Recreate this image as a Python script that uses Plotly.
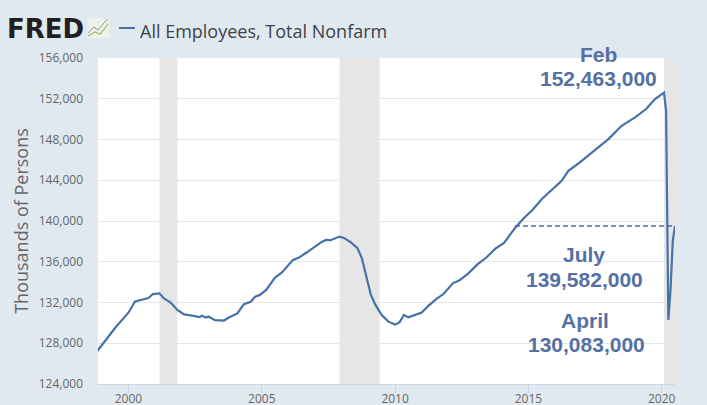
import plotly.graph_objects as go

dates = ["1998-11","1999-03","1999-07","2000-01","2000-02","2000-04","2000-07","2000-10","2000-12","2001-03",
"2001-05","2001-08","2001-11","2002-02","2002-05","2002-09","2002-10","2002-12","2003-01","2003-04",
"2003-08","2003-10","2004-02","2004-05","2004-08","2004-10","2004-12","2005-03","2005-07","2005-10",
"2006-03","2006-06","2006-09","2007-01","2007-04","2007-06","2007-08","2007-12","2008-02","2008-05",
"2008-08","2008-10","2008-12","2009-02","2009-04","2009-07","2009-10","2010-01","2010-03","2010-05",
"2010-07","2010-11","2011-01","2011-04","2011-07","2011-11","2012-03","2012-06","2012-10","2013-02",
"2013-06","2013-10","2014-02","2014-07","2014-11","2015-03","2015-07","2016-04","2016-07","2016-12",
"2017-07","2018-01","2018-07","2019-01","2019-06","2019-10","2020-02","2020-03","2020-04","2020-05","2020-06","2020-07"]
employees = [127240,128340,129500,131000,131330,132100,132270,132430,132830,132900,
132400,132000,131270,130830,130730,130570,130700,130530,130630,130270,
130230,130500,130930,131830,132070,132570,132720,133240,134440,134930,
136160,136450,136880,137530,137950,138150,138110,138470,138340,137920,
137360,136390,134600,132800,131840,130770,130120,129830,130050,130770,
130540,130860,131020,131675,132230,132880,133885,134180,134860,135740,
136390,137265,137850,139310,140290,141100,142130,143940,144920,145740,
146990,148040,149350,150170,150990,151970,152600,150800,130300,133300,138100,139500]
july_dates = ["2014-07","2020-07"]
july_level = [139509,139509]
recessions = [("2001-03-01","2001-11-01"),("2007-12-01","2009-06-01"),("2020-02-01","2020-07-01")]
y_ticks = list(range(124000,156001,4000))
x_ticks = ["2000-01-01","2005-01-01","2010-01-01","2015-01-01","2020-01-01"]
x_labels = ["2000","2005","2010","2015","2020"]
series_name = "All Employees, Total Nonfarm"
callouts = [("Feb",598,54),("152,463,000",598,78),("July",584,254),("139,582,000",584,279),
            ("April",585,320),("130,083,000",586,344)]

W,H = 707,405
L,R,T,B = 98,675,58,384
def px(x): return (x-L)/(R-L)
def py(y): return (B-y)/(B-T)

fig = go.Figure()
fig.add_trace(go.Scatter(x=dates,y=employees,mode="lines",name=series_name,
    line=dict(color="#4572a7",width=2.2)))
fig.add_trace(go.Scatter(x=july_dates,y=july_level,mode="lines",name="July level",
    line=dict(color="#4f6a9b",width=1.6,dash="5px,3px")))

for a,b in recessions:
    fig.add_shape(type="rect",xref="x",yref="paper",x0=a,x1=b,y0=0,y1=1,
        fillcolor="#e6e6e6",line_width=0,layer="between")

# legend key beside the title
fig.add_shape(type="line",xref="paper",yref="paper",x0=px(119),x1=px(135),y0=py(28),y1=py(28),
    line=dict(color="#4572a7",width=2))
# FRED logo icon
fig.add_shape(type="rect",xref="paper",yref="paper",x0=px(87),x1=px(109),y0=py(38),y1=py(18),
    fillcolor="#eef0ec",line_width=0)
fig.add_shape(type="path",xref="paper",yref="paper",
    path=f"M {px(88)} {py(33)} L {px(94)} {py(27)} L {px(98)} {py(30)} L {px(103)} {py(24)} L {px(108)} {py(19)}",
    line=dict(color="#8a9a8e",width=1))
fig.add_shape(type="path",xref="paper",yref="paper",
    path=f"M {px(88)} {py(36)} L {px(95)} {py(32)} L {px(100)} {py(34)} L {px(105)} {py(28)} L {px(108)} {py(24)}",
    line=dict(color="#9dbb6e",width=1.2))

fig.add_annotation(text="<b>FRED</b>",xref="paper",yref="paper",x=px(5),y=py(29),xanchor="left",yanchor="middle",
    showarrow=False,font=dict(family="DejaVu Sans",size=26,color="#231f20"))
for t,x,y in callouts:
    fig.add_annotation(text=f"<b>{t}</b>",xref="paper",yref="paper",x=px(x),y=py(y),
        xanchor="center",yanchor="middle",showarrow=False,
        font=dict(family="Liberation Sans",size=21,color="#5470a4"))

fig.update_layout(
    width=W,height=H,autosize=False,showlegend=False,
    margin=dict(l=L,r=W-R,t=T,b=H-B,pad=0,autoexpand=False),
    paper_bgcolor="#e1e9f0",plot_bgcolor="#ffffff",
    font=dict(family="Open Sans",color="#666666",size=12),
    title=dict(text=series_name,x=140/W,y=1-32/H,xref="container",yref="container",xanchor="left",yanchor="middle",
        automargin=False,font=dict(family="Open Sans",size=18,color="#3d4248")),
    xaxis=dict(range=["1998-11-10","2020-07-01"],tickvals=x_ticks,ticktext=x_labels,showgrid=False,automargin=False,
        ticks="outside",ticklen=8,ticklabelstandoff=-4,tickcolor="#ccd6eb",showline=True,linecolor="#ccd6eb",linewidth=1,
        tickfont=dict(size=12,color="#666666"),zeroline=False),
    yaxis=dict(range=[124000,156000],tickvals=y_ticks,tickformat=",d",showgrid=True,gridcolor="#e6e6e6",gridwidth=1,
        automargin=False,ticks="",ticklabelstandoff=14,showline=False,zeroline=False,
        tickfont=dict(size=12,color="#666666"),
        title=dict(text="Thousands of Persons",standoff=5,font=dict(size=18,color="#666666"))),
)
fig.write_html("out.html",config={"displayModeBar":False},
    post_script="document.body.style.margin='0';document.documentElement.style.overflow='hidden';")
